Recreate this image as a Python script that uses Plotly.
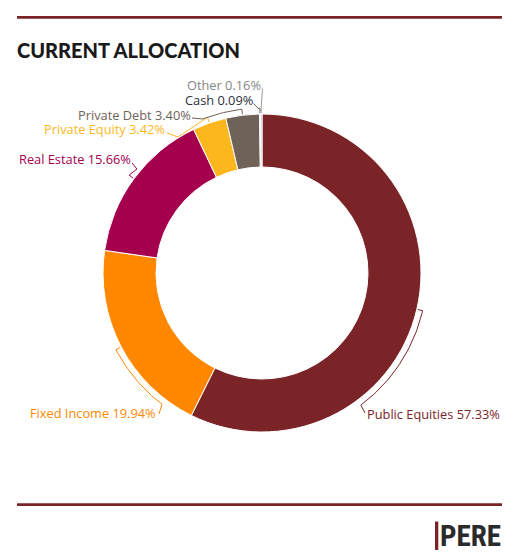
import math
import plotly.graph_objects as go

# ---------------- data ----------------
categories = ["Public Equities", "Fixed Income", "Real Estate", "Private Equity",
              "Private Debt", "Cash", "Other"]
shares = [57.33, 19.94, 15.66, 3.42, 3.40, 0.09, 0.16]
label_texts = [f"{c} {v:.2f}%" for c, v in zip(categories, shares)]

# ---------------- styles ----------------
slice_colors = ["#7B2428", "#FF8800", "#A5004E", "#FDB71E", "#6F6259", "#2E2E3E", "#BDBDBD"]
label_colors = ["#7B2428", "#FF8800", "#A5004E", "#FDB71E", "#6F6259", "#2E2E3E", "#858585"]
tick_colors = ["#7B2428", "#FF8800", "#A5004E", "#FDB71E", "#6F6259", "#6F6259", "#9A9A9A"]

W, H = 528, 557
CX, CY, R = 262, 273, 159
HOLE = 106 / 159
FONT = "Open Sans, Noto Sans, sans-serif"

# label layout: (x, y, anchor side), connector arc span in degrees, via offsets relative to label anchor
label_layout = [
    dict(x=366, y=414, side="left", span=40, via=[], end=(-1, -1)),
    dict(x=157, y=413, side="right", span=-25, via=[], end=(2, 1)),
    dict(x=132, y=159, side="right", span=0, via=[(5, 6)], end=(0, 4)),
    dict(x=166, y=129, side="right", span=0, via=[(11, 4)], end=(1, 4)),
    dict(x=192, y=114.5, side="right", span=-14, via=[], end=(0, 3.5)),
    dict(x=253.5, y=99.5, side="right", span=0, via=[(5, 5)], end=(0, 4)),
    dict(x=262, y=84.5, side="right", span=0, via=[], end=(0.5, 4)),
]

fig = go.Figure()

# donut
fig.add_trace(go.Pie(
    labels=categories, values=shares, sort=False, direction="clockwise", rotation=0,
    hole=HOLE, textinfo="none", hoverinfo="label+percent",
    marker=dict(colors=slice_colors, line=dict(color="#FFFFFF", width=1)),
    domain=dict(x=[(CX - R) / W, (CX + R) / W], y=[(H - CY - R) / H, (H - CY + R) / H]),
    showlegend=False,
))


def pt(theta_deg, r):
    t = math.radians(theta_deg)
    return CX + r * math.sin(t), CY - r * math.cos(t)


total = sum(shares)
cum = 0.0
annotations = []
for i, v in enumerate(shares):
    a0 = cum / total * 360
    cum += v
    a1 = cum / total * 360
    mid = (a0 + a1) / 2
    lay = label_layout[i]
    xs, ys = [], []
    for rr in (R + 1, R + 6):
        px, py = pt(mid, rr)
        xs.append(px); ys.append(py)
    n = max(2, int(abs(lay["span"])) + 1)
    if lay["span"] != 0:
        for k in range(1, n + 1):
            th = mid + lay["span"] * k / n
            px, py = pt(th, R + 6)
            xs.append(px); ys.append(py)
    ax = lay["x"] + lay["end"][0]
    ay = lay["y"] + lay["end"][1]
    for dx, dy in lay["via"]:
        xs.append(ax + dx); ys.append(ay + dy)
    xs.append(ax); ys.append(ay)
    fig.add_trace(go.Scatter(x=xs, y=ys, mode="lines", line=dict(color=tick_colors[i], width=1),
                             hoverinfo="skip", showlegend=False))
    annotations.append(dict(
        x=lay["x"], y=lay["y"], xref="x", yref="y", text=label_texts[i], showarrow=False,
        xanchor=lay["side"], yanchor="middle", font=dict(family=FONT, size=12.8, color=label_colors[i]),
        borderpad=0,
    ))

# title
annotations.append(dict(
    x=16, y=50, xref="x", yref="y", text="CURRENT ALLOCATION", showarrow=False,
    xanchor="left", yanchor="middle",
    font=dict(family="Lato, sans-serif", size=20, color="#1A1A1A", weight=900),
    borderpad=0,
))
# brand
annotations.append(dict(
    x=502, y=536, xref="x", yref="y", text="<b>PERE</b>", showarrow=False,
    xanchor="right", yanchor="middle",
    font=dict(family="Liberation Sans Narrow, Roboto Condensed, Roboto, sans-serif", size=29, color="#2A2A2A"),
    borderpad=0,
))

shapes = [
    dict(type="line", xref="x", yref="y", x0=17, x1=502, y0=17.3, y1=17.3,
         line=dict(color="#7B2428", width=2.7)),
    dict(type="line", xref="x", yref="y", x0=17, x1=502, y0=504.7, y1=504.7,
         line=dict(color="#7B2428", width=2.7)),
    dict(type="rect", xref="x", yref="y", x0=435, x1=438.3, y0=521.5, y1=550,
         fillcolor="#7B2428", line=dict(width=0)),
]

fig.update_layout(
    width=W, height=H, margin=dict(l=0, r=0, t=0, b=0),
    paper_bgcolor="#FFFFFF", plot_bgcolor="rgba(0,0,0,0)",
    xaxis=dict(range=[0, W], visible=False, fixedrange=True, domain=[0, 1]),
    yaxis=dict(range=[H, 0], visible=False, fixedrange=True, domain=[0, 1]),
    annotations=annotations, shapes=shapes, showlegend=False,
)

fig.write_html("out.html", config={"displayModeBar": False},
               post_script="document.body.style.margin='0';document.body.style.overflow='hidden';")
